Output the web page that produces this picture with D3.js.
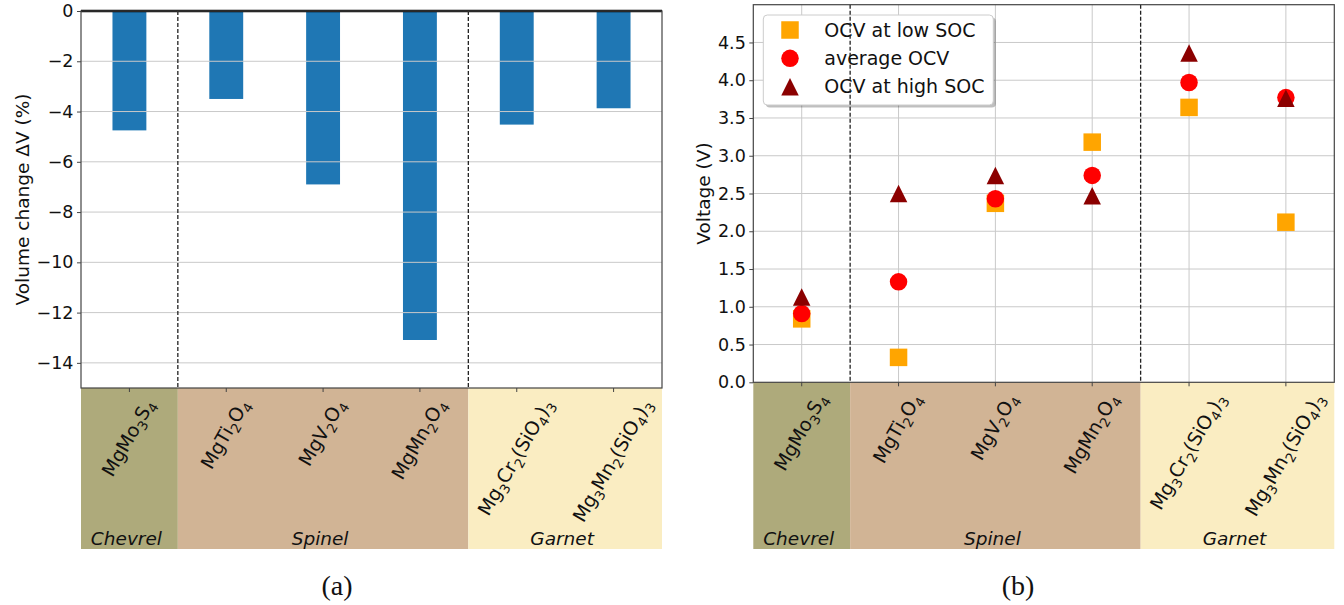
<!DOCTYPE html>
<html>
<head>
<meta charset="utf-8">
<script src="https://cdn.jsdelivr.net/npm/d3@7"></script>
<style>
  body { margin: 0; background: #fff; }
  svg { display: block; font-family: "DejaVu Sans", sans-serif; }
</style>
</head>
<body>
<svg id="fig" width="1344" height="605"></svg>
<script>
// Compounds (subscripts written as _{n}) and their structural family
const compounds = [
  "MgMo_{3}S_{4}", "MgTi_{2}O_{4}", "MgV_{2}O_{4}", "MgMn_{2}O_{4}",
  "Mg_{3}Cr_{2}(SiO_{4})_{3}", "Mg_{3}Mn_{2}(SiO_{4})_{3}"
];
const families = ["Chevrel", "Spinel", "Spinel", "Spinel", "Garnet", "Garnet"];
const familyColors = { Chevrel: "#aeaa7b", Spinel: "#d1b495", Garnet: "#faedc2" };

// (a) volume change on magnesiation, %
const volumeChange = [-4.75, -3.50, -6.90, -13.09, -4.52, -3.87];
const volumeTicks = [0, -2, -4, -6, -8, -10, -12, -14];

// (b) open-circuit voltages, V
const ocvLow = [0.84, 0.33, 2.37, 3.18, 3.64, 2.12];
const ocvAverage = [0.91, 1.33, 2.43, 2.74, 3.97, 3.77];
const ocvHigh = [1.13, 2.50, 2.74, 2.47, 4.36, 3.76];
const voltageTicks = [0, 0.5, 1, 1.5, 2, 2.5, 3, 3.5, 4, 4.5];

const svg = d3.select("#fig");
const BAND_BOTTOM = 549;
const LABEL_FS = 19;

// contiguous runs of the same family
const runs = [];
families.forEach((f, i) => {
  if (runs.length && runs[runs.length - 1].name === f) runs[runs.length - 1].end = i;
  else runs.push({ name: f, start: i, end: i });
});

function addFormula(textSel, str, fs) {
  const re = /_\{([^}]*)\}/g;
  let last = 0, m, shifted = false;
  const sub = fs * 0.7, shift = fs * 0.25;
  const push = (t, isSub) => {
    const ts = textSel.append("tspan").text(t);
    if (isSub) { ts.attr("font-size", sub).attr("dy", shifted ? 0 : shift); shifted = true; }
    else if (shifted) { ts.attr("dy", -shift); shifted = false; }
  };
  while ((m = re.exec(str))) {
    if (m.index > last) push(str.slice(last, m.index), false);
    push(m[1], true);
    last = re.lastIndex;
  }
  if (last < str.length) push(str.slice(last), false);
}

function drawPanel(cfg) {
  const g = svg.append("g");
  const x = d3.scaleBand().domain(d3.range(compounds.length))
    .range([cfg.x0, cfg.x1]).paddingInner(0).paddingOuter(0);
  const cx = i => x(i) + x.bandwidth() / 2;
  const y = d3.scaleLinear().domain(cfg.yDomain).range([cfg.yBottom, cfg.yTop]);

  // family bands under the axis
  g.selectAll("rect.band").data(runs).join("rect")
    .attr("x", d => x(d.start)).attr("width", d => x(d.end) + x.bandwidth() - x(d.start))
    .attr("y", cfg.yBottom).attr("height", BAND_BOTTOM - cfg.yBottom)
    .attr("fill", d => familyColors[d.name]);
  g.selectAll("text.family").data(runs).join("text")
    .attr("x", d => (x(d.start) + x(d.end) + x.bandwidth()) / 2 - 3)
    .attr("y", 545).attr("text-anchor", "middle")
    .attr("font-size", 18.5).attr("font-style", "italic").attr("fill", "#111")
    .text(d => d.name);

  cfg.drawMarks(g, x, cx, y);

  // gridlines
  const grid = g.append("g").attr("stroke", "#c9c9c9").attr("stroke-width", 1);
  grid.selectAll("line.h").data(cfg.ticks.filter(t => y(t) > cfg.yTop + 1 && y(t) < cfg.yBottom - 1)).join("line")
    .attr("x1", cfg.x0).attr("x2", cfg.x1).attr("y1", d => y(d)).attr("y2", d => y(d));
  if (cfg.vGrid) {
    grid.selectAll("line.v").data(d3.range(compounds.length)).join("line")
      .attr("x1", cx).attr("x2", cx).attr("y1", cfg.yTop).attr("y2", cfg.yBottom);
  }
  if (cfg.overGrid) cfg.overGrid(g, x, cx, y);

  // family separators
  g.selectAll("line.sep").data(runs.slice(1)).join("line")
    .attr("x1", d => x(d.start)).attr("x2", d => x(d.start))
    .attr("y1", cfg.yTop).attr("y2", cfg.yBottom)
    .attr("stroke", "#222").attr("stroke-width", 1.3).attr("stroke-dasharray", "4,2");

  // frame
  g.append("rect").attr("x", cfg.x0).attr("y", cfg.yTop)
    .attr("width", cfg.x1 - cfg.x0).attr("height", cfg.yBottom - cfg.yTop)
    .attr("fill", "none").attr("stroke", "#444").attr("stroke-width", 1.2);

  // y axis
  const yAxis = d3.axisLeft(y).tickValues(cfg.ticks).tickFormat(cfg.format)
    .tickSize(4).tickPadding(3.5);
  const ya = g.append("g").attr("transform", `translate(${cfg.x0},0)`).call(yAxis);
  ya.select(".domain").remove();
  ya.selectAll(".tick line").attr("stroke", "#444");
  ya.selectAll(".tick text").attr("font-size", 17.5).attr("font-family", "DejaVu Sans").attr("fill", "#111");

  // x ticks
  g.selectAll("line.xt").data(d3.range(compounds.length)).join("line")
    .attr("x1", cx).attr("x2", cx).attr("y1", cfg.yBottom).attr("y2", cfg.yBottom + 4)
    .attr("stroke", "#444");

  // rotated compound labels
  compounds.forEach((c, i) => {
    const lg = g.append("g");
    const t = lg.append("text").attr("text-anchor", "end").attr("font-size", LABEL_FS)
      .attr("fill", "#111").attr("transform", "rotate(-60)");
    addFormula(t, c, LABEL_FS);
    const r = lg.node().getBoundingClientRect();
    lg.attr("transform", `translate(${cx(i) - (r.left + r.width / 2)},${cfg.yBottom + 7 - r.top})`);
  });

  // y label
  g.append("text")
    .attr("transform", `translate(${cfg.ylabelX},${(cfg.yTop + cfg.yBottom) / 2}) rotate(-90)`)
    .attr("text-anchor", "middle").attr("font-size", 18.5).attr("fill", "#111")
    .text(cfg.ylabel);

  // caption
  svg.append("text").attr("x", cfg.captionX).attr("y", 595)
    .attr("text-anchor", "middle").attr("font-family", "Liberation Serif, serif")
    .attr("font-size", 28).attr("fill", "#111").text(cfg.caption);
}

// (a) volume change bars
drawPanel({
  x0: 81, x1: 662, yTop: 11, yBottom: 388,
  yDomain: [-15, 0], ticks: volumeTicks, format: d3.format("d"),
  ylabel: "Volume change \u0394V (%)", ylabelX: 29, caption: "(a)", captionX: 337,
  vGrid: false,
  drawMarks(g, x, cx, y) {
    const w = x.bandwidth() * 0.35;
    g.selectAll("rect.bar").data(volumeChange).join("rect")
      .attr("x", (d, i) => cx(i) - w / 2).attr("width", w)
      .attr("y", y(0)).attr("height", d => y(d) - y(0))
      .attr("fill", "#1f77b4");
  },
  overGrid(g, x, cx, y) {
    g.append("line").attr("x1", x.range()[0]).attr("x2", x.range()[1])
      .attr("y1", y(0)).attr("y2", y(0)).attr("stroke", "#000").attr("stroke-width", 2.4);
  }
});

// (b) open-circuit voltages
const S = 17.5;
const markerShapes = {
  square: sel => sel.append("rect").attr("x", -S / 2).attr("y", -S / 2).attr("width", S).attr("height", S).attr("fill", "#ffa500"),
  circle: sel => sel.append("circle").attr("r", S / 2).attr("fill", "#ff0000"),
  triangle: sel => sel.append("path").attr("d", `M0,${-S / 2}L${S / 2},${S / 2}L${-S / 2},${S / 2}Z`).attr("fill", "#8b0000")
};
const ocvSeries = [
  { name: "OCV at low SOC", values: ocvLow, shape: "square" },
  { name: "average OCV", values: ocvAverage, shape: "circle" },
  { name: "OCV at high SOC", values: ocvHigh, shape: "triangle" }
];

drawPanel({
  x0: 753.3, x1: 1334.3, yTop: 4.7, yBottom: 382.3,
  yDomain: [0, 5], ticks: voltageTicks, format: d3.format(".1f"),
  ylabel: "Voltage (V)", ylabelX: 710, caption: "(b)", captionX: 1018,
  vGrid: true,
  drawMarks() {},
  overGrid(g, x, cx, y) {
    ocvSeries.forEach(s => {
      s.values.forEach((v, i) => {
        const m = g.append("g").attr("transform", `translate(${cx(i)},${y(v)})`);
        markerShapes[s.shape](m);
      });
    });
    // legend
    const lg = g.append("g").attr("transform", "translate(763.3,15)");
    lg.append("rect").attr("x", 2.5).attr("y", 2.5).attr("width", 230).attr("height", 90)
      .attr("rx", 4).attr("fill", "#000").attr("opacity", 0.25);
    lg.append("rect").attr("width", 230).attr("height", 90).attr("rx", 4)
      .attr("fill", "#fff").attr("stroke", "#cccccc").attr("stroke-width", 1);
    ocvSeries.forEach((s, k) => {
      const row = lg.append("g").attr("transform", `translate(26.7,${15 + k * 28.35})`);
      markerShapes[s.shape](row);
      row.append("text").attr("x", 34.3).attr("dy", "0.35em").attr("font-size", 19)
        .attr("fill", "#111").text(s.name);
    });
  }
});
</script>
</body>
</html>
